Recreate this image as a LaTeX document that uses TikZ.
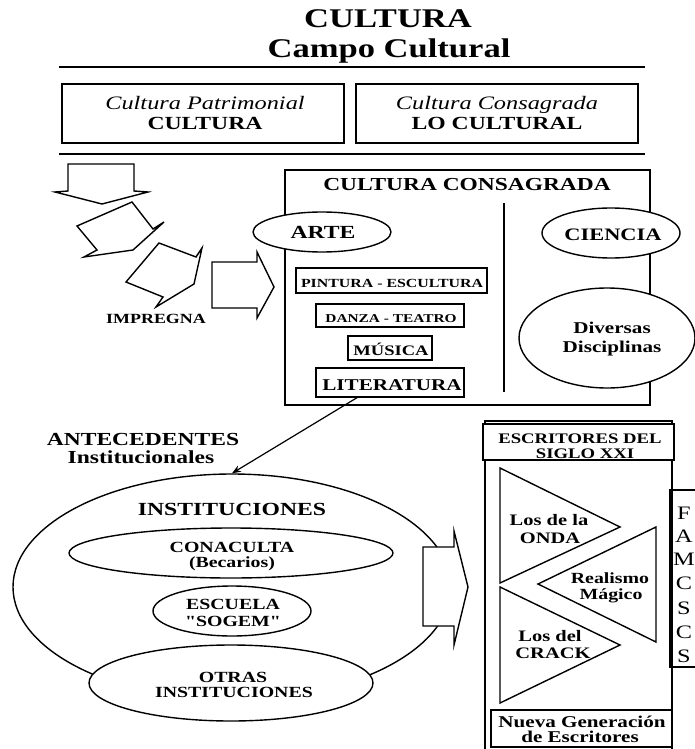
\documentclass[tikz,border=0pt]{standalone}
\usepackage{fontspec}
\setmainfont{Liberation Serif}[FakeStretch=1.28,Ligatures=TeXOff]
\usetikzlibrary{shapes.geometric,arrows.meta}
\newcommand\fsz[1]{\fontsize{#1}{#1}\selectfont}
\begin{document}
\begin{tikzpicture}[x=1pt,y=-1pt,line width=1.4pt,line join=miter,
  txt/.style={anchor=base,inner sep=0pt},
  bx/.style={draw,fill=white,rectangle,inner sep=0pt},
  ell/.style={draw,fill=white,ellipse,inner sep=0pt},
  blockarrow/.style={draw,fill=white,line width=1.4pt},
  rule/.style={line width=1.8pt}]
\useasboundingbox (0,0) rectangle (695,749);
% title
\node[txt,font=\bfseries\fsz{27}] (t1) at (388,28) {CULTURA};
\node[txt,font=\bfseries\fsz{27}] (t2) at (389,58) {Campo Cultural};
\draw[rule] (59,67) -- (645,67);
% top boxes
\node[bx,minimum width=282,minimum height=59] (b1) at (203,113.5) {};
\node[bx,minimum width=282,minimum height=59] (b2) at (497,113.5) {};
\node[txt,font=\itshape\fsz{19}] (b1a) at (205,110) {Cultura Patrimonial};
\node[txt,font=\bfseries\fsz{18.5}] (b1b) at (205,130) {CULTURA};
\node[txt,font=\itshape\fsz{19}] (b2a) at (497,110) {Cultura Consagrada};
\node[txt,font=\bfseries\fsz{18.5}] (b2b) at (497,130) {LO CULTURAL};
\draw[rule] (59,154) -- (645,154);
% block arrows (left)
\draw[blockarrow] (68,164) -- (134,164) -- (134,191) -- (148,192) -- (102,204) -- (55,192) -- (68,191) -- cycle;
\draw[blockarrow] (77,226) -- (132,202) -- (153,229) -- (164,222) -- (133,250) -- (84,257) -- (97,250) -- cycle;
\draw[blockarrow] (126,282) -- (159,243) -- (196,257) -- (202,248) -- (194,284) -- (156,307) -- (163,297) -- cycle;
\draw[blockarrow] (212,262) -- (257,262) -- (257,252) -- (274,287) -- (257,318) -- (257,308) -- (212,308) -- cycle;
\node[txt,font=\bfseries\fsz{14}] (imp) at (156,323) {IMPREGNA};
% cultura consagrada box
\node[bx,minimum width=365,minimum height=235] (cc) at (467.5,287.5) {};
\node[txt,font=\bfseries\fsz{18.3}] (cct) at (467,190) {CULTURA CONSAGRADA};
\draw (504,203) -- (504,392);
\node[ell,minimum width=138,minimum height=40] (arte) at (322,232) {};
\node[txt,font=\bfseries\fsz{18.5}] (artet) at (323,238) {ARTE};
\node[ell,minimum width=138,minimum height=50] (cien) at (611,233) {};
\node[txt,font=\bfseries\fsz{17.5}] (ciet) at (613,240) {CIENCIA};
\node[ell,minimum width=176,minimum height=100] (div) at (607,338) {};
\node[txt,font=\bfseries\fsz{16.5}] (div1) at (612,333) {Diversas};
\node[txt,font=\bfseries\fsz{16.5}] (div2) at (612,352) {Disciplinas};
\node[bx,minimum width=191,minimum height=25] (pin) at (391.5,280.5) {};
\node[txt,font=\bfseries\fsz{12.4}] (pint) at (392,287) {PINTURA - ESCULTURA};
\node[bx,minimum width=148,minimum height=23] (dan) at (390,315.5) {};
\node[txt,font=\bfseries\fsz{12}] (dant) at (391,322) {DANZA - TEATRO};
\node[bx,minimum width=84,minimum height=24] (mus) at (390,348) {};
\node[txt,font=\bfseries\fsz{14.5}] (must) at (391,355) {MÚSICA};
\node[bx,minimum width=148,minimum height=29] (lit) at (390,382.5) {};
\node[txt,font=\bfseries\fsz{16.5}] (litt) at (392,390) {LITERATURA};
% antecedentes
\node[txt,font=\bfseries\fsz{18.4}] (ant1) at (143,445) {ANTECEDENTES};
\node[txt,font=\bfseries\fsz{18.4}] (ant2) at (141,463) {Institucionales};
% instituciones
\node[ell,minimum width=438,minimum height=226] (inst) at (232,587) {};
\draw[line width=1.2pt,-{Stealth[length=9pt,width=7pt]}] ([xshift=-33pt]lit.south) -- (inst.north);
\node[txt,font=\bfseries\fsz{18.5}] (instt) at (232,515) {INSTITUCIONES};
\node[ell,minimum width=324,minimum height=50] (cona) at (231,553) {};
\node[txt,font=\bfseries\fsz{15.5}] (cona1) at (232,552) {CONACULTA};
\node[txt,font=\bfseries\fsz{15.5}] (cona2) at (232,567) {(Becarios)};
\node[ell,minimum width=158,minimum height=50] (esc) at (232,611) {};
\node[txt,font=\bfseries\fsz{15.5}] (esc1) at (233,609) {ESCUELA};
\node[txt,font=\bfseries\fsz{15.5}] (esc2) at (233,626) {"SOGEM"};
\draw[blockarrow] (423,547) -- (454,547) -- (454,531) -- (468,587) -- (454,645) -- (454,626) -- (423,626) -- cycle;
\node[ell,minimum width=284,minimum height=76] (otr) at (231,683) {};
\node[txt,font=\bfseries\fsz{15.5}] (otr1) at (233,682) {OTRAS};
\node[txt,font=\bfseries\fsz{15.5}] (otr2) at (234,697) {INSTITUCIONES};
% right panel
\draw (485,752) -- (485,421) -- (672,421) -- (672,752);
\node[bx,minimum width=191,minimum height=36] (hdr) at (578.5,442) {};
\node[txt,font=\bfseries\fsz{14.6}] (hdr1) at (580,443) {ESCRITORES DEL};
\node[txt,font=\bfseries\fsz{14.6}] (hdr2) at (585,458) {SIGLO XXI};
\draw (500,468) -- (620,527) -- (500,583) -- cycle;
\draw (656,527) -- (538,584) -- (656,642) -- cycle;
\draw (500,587) -- (620,645) -- (500,703) -- cycle;
\node[txt,font=\bfseries\fsz{16}] (on1) at (549,525) {Los de la};
\node[txt,font=\bfseries\fsz{16}] (on2) at (550,543) {ONDA};
\node[txt,font=\bfseries\fsz{15.5}] (rm1) at (610,583) {Realismo};
\node[txt,font=\bfseries\fsz{15.5}] (rm2) at (611,599) {Mágico};
\node[txt,font=\bfseries\fsz{16}] (cr1) at (550,641) {Los del};
\node[txt,font=\bfseries\fsz{16}] (cr2) at (553,658) {CRACK};
\node[bx,minimum width=181,minimum height=37] (nue) at (581.5,728.5) {};
\node[txt,font=\bfseries\fsz{16.5}] (nue1) at (582,727) {Nueva Generación};
\node[txt,font=\bfseries\fsz{16.5}] (nue2) at (580,742) {de Escritores};
% far right partial box
\draw (698,490) -- (670,490) -- (670,667) -- (698,667);
\foreach \l/\y [count=\i] in {F/519,A/542,M/565,C/589,S/614,C/638,S/662}
  \node[anchor=base,inner sep=0pt,font=\fsz{19}] (fr\i) at (684,\y) {\l};
\end{tikzpicture}
\end{document}
